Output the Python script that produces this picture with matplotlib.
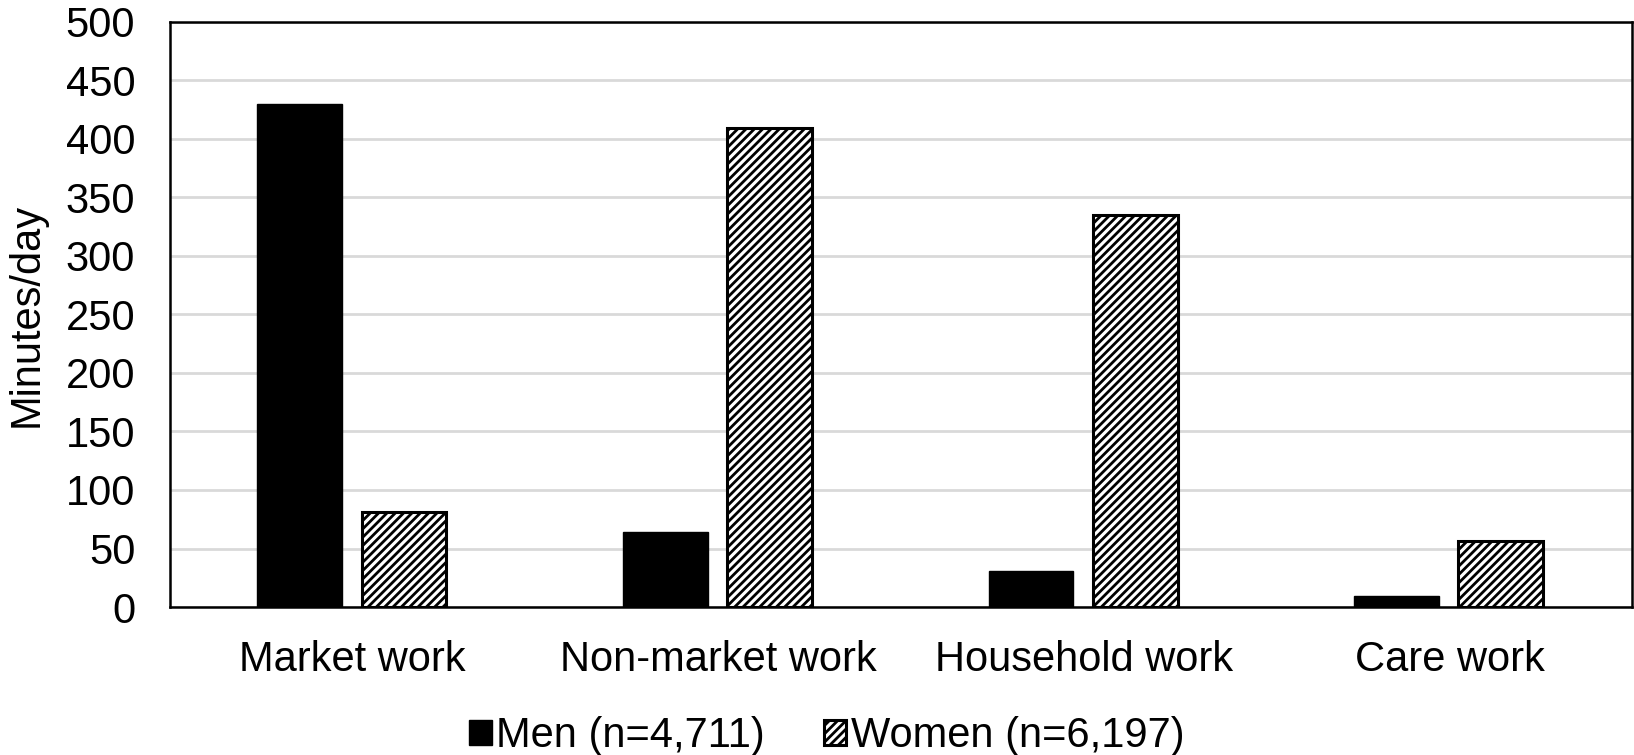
import numpy as np
import matplotlib.pyplot as plt

categories = ['Market work', 'Non-market work', 'Household work', 'Care work']
men = [430, 64, 31, 9]
women = [81, 409, 335, 56]
men_label = 'Men (n=4,711)'
women_label = 'Women (n=6,197)'

plt.rcParams['font.family'] = ['Liberation Sans', 'DejaVu Sans']
plt.rcParams['hatch.linewidth'] = 2.0
plt.rcParams['hatch.color'] = 'black'

fig = plt.figure(figsize=(16.34, 7.55), dpi=100)
ax = fig.add_axes([0.104, 0.196, 0.895, 0.775])

x = np.arange(len(categories))
w = 0.232
ax.bar(x - 0.145, men, w, color='black', edgecolor='black', linewidth=1,
       label=men_label, zorder=3)
ax.bar(x + 0.14, women, w, color='white', edgecolor='black', linewidth=2.2,
       hatch='////', label=women_label, zorder=3)

ax.set_xlim(-0.5, len(categories) - 0.5)
ax.set_ylim(0, 500)
ax.set_yticks(range(0, 501, 50))
ax.set_xticks(x)
ax.set_xticklabels(categories)
ax.tick_params(axis='both', length=0, labelsize=30)
ax.tick_params(axis='x', pad=24)
ax.tick_params(axis='y', pad=25)
ax.yaxis.grid(True, color='#d9d9d9', linewidth=2, zorder=0)
ax.set_axisbelow(True)
for s in ax.spines.values():
    s.set_linewidth(1.8)
    s.set_color('black')

ax.set_ylabel('Minutes/day', fontsize=30)
ax.yaxis.set_label_coords(-0.084, 0.5)

fig.legend(loc='center', bbox_to_anchor=(0.506, 0.025), ncol=2, frameon=False,
           fontsize=30, handlelength=0.55, handleheight=0.55,
           handletextpad=0.1, columnspacing=1.4)

fig.savefig('out.png', dpi=100)
